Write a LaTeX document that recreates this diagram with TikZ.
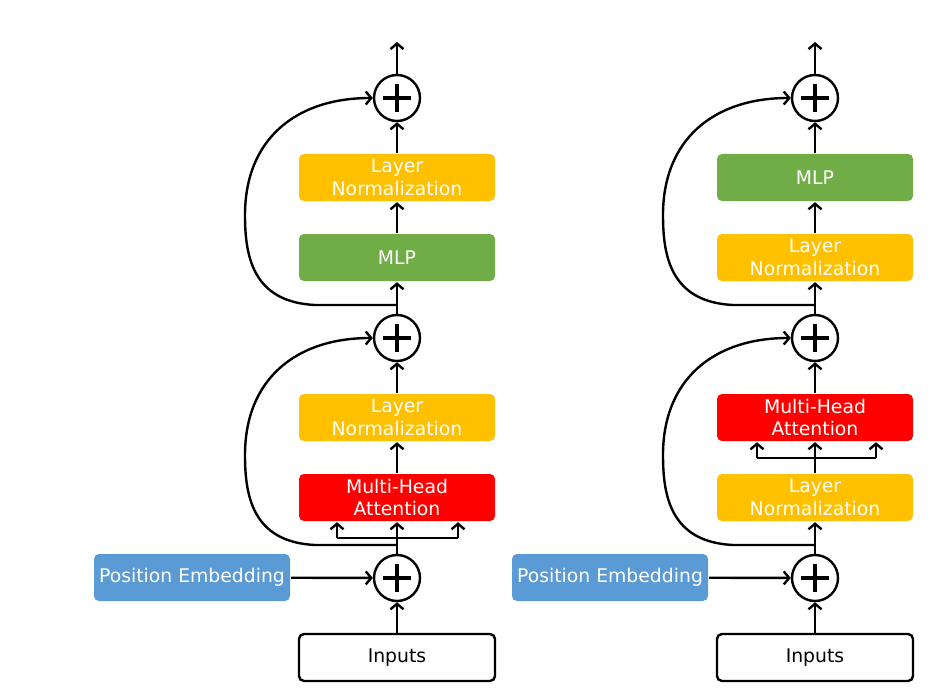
\documentclass[tikz,border=0pt]{standalone}
\usepackage{fontspec}
\setmainfont{DejaVu Sans}
\usetikzlibrary{arrows.meta}
\definecolor{lnyellow}{HTML}{FFC000}
\definecolor{mlpgreen}{HTML}{70AD47}
\definecolor{mhared}{HTML}{FF0000}
\definecolor{peblue}{HTML}{5B9BD5}
\begin{document}
\begin{tikzpicture}[x=1pt,y=-1pt,line width=2.4pt,
  blk/.style={rounded corners=5pt,minimum width=196pt,minimum height=47pt,text=white,align=center,inner sep=0pt,font=\fontsize{18.8}{22.5}\selectfont},
  ln/.style={blk,fill=lnyellow},
  mlp/.style={blk,fill=mlpgreen},
  mha/.style={blk,fill=mhared},
  pe/.style={blk,fill=peblue},
  inp/.style={blk,draw=black,fill=white,text=black,line width=2.4pt},
  plus/.style={circle,draw,fill=white,minimum size=46pt,inner sep=0pt,line width=2.4pt,
    path picture={\draw[line width=4pt] ([xshift=-14pt]path picture bounding box.center) -- ([xshift=14pt]path picture bounding box.center);
                  \draw[line width=4pt] ([yshift=-14pt]path picture bounding box.center) -- ([yshift=14pt]path picture bounding box.center);}},
  arr/.style={-{Straight Barb[length=5.5pt,width=13pt]}}
]
\useasboundingbox (0,0) rectangle (928,695);

% ---------- left column ----------
\node[plus] (Lc3) at (397,98) {};
\node[ln] (Lln2) at (397,177.5) {Layer\\Normalization};
\node[mlp] (Lmlp) at (397,257.5) {MLP};
\node[plus] (Lc2) at (397,338) {};
\node[ln] (Lln1) at (397,417.5) {Layer\\Normalization};
\node[mha] (Lmha) at (397,497.5) {Multi-Head\\Attention};
\node[plus] (Lc1) at (397,578) {};
\node[pe] (Lpe) at (192,577.5) {Position Embedding};
\node[inp] (Lin) at (397,657.5) {Inputs};
\coordinate (Lout) at (397,42);
\coordinate (Lbl) at (337,538);
\coordinate (Lbr) at (458,538);
\coordinate (Ls1) at (397,545);
\coordinate (Ls2) at (397,305);

\draw[arr] (Lin) -- (Lc1);
\draw[arr] (Lpe) -- (Lc1);
\draw[arr] (Lc1) -- (Lmha);
\draw (Lbl) -- (Lbr);
\draw[arr] (Lbl) -- (Lbl|-Lmha.south);
\draw[arr] (Lbr) -- (Lbr|-Lmha.south);
\draw[arr] (Lmha) -- (Lln1);
\draw[arr] (Lln1) -- (Lc2);
\draw[arr] (Lc2) -- (Lmlp);
\draw[arr] (Lmlp) -- (Lln2);
\draw[arr] (Lln2) -- (Lc3);
\draw[arr] (Lc3) -- (Lout);
\draw[arr] (Ls1) -- (315,545) .. controls (252,542) and (245,495) .. (245,455) .. controls (245,380) and (295,338) .. (Lc2.west);
\draw[arr] (Ls2) -- (315,305) .. controls (252,302) and (245,255) .. (245,215) .. controls (245,140) and (295,98) .. (Lc3.west);

% ---------- right column ----------
\node[plus] (Rc3) at (815,98) {};
\node[mlp] (Rmlp) at (815,177.5) {MLP};
\node[ln] (Rln2) at (815,257.5) {Layer\\Normalization};
\node[plus] (Rc2) at (815,338) {};
\node[mha] (Rmha) at (815,417.5) {Multi-Head\\Attention};
\node[ln] (Rln1) at (815,497.5) {Layer\\Normalization};
\node[plus] (Rc1) at (815,578) {};
\node[pe] (Rpe) at (610,577.5) {Position Embedding};
\node[inp] (Rin) at (815,657.5) {Inputs};
\coordinate (Rout) at (815,42);
\coordinate (Rbl) at (757,458);
\coordinate (Rbr) at (876,458);
\coordinate (Rs1) at (815,545);
\coordinate (Rs2) at (815,305);

\draw[arr] (Rin) -- (Rc1);
\draw[arr] (Rpe) -- (Rc1);
\draw[arr] (Rc1) -- (Rln1);
\draw[arr] (Rln1) -- (Rmha);
\draw (Rbl) -- (Rbr);
\draw[arr] (Rbl) -- (Rbl|-Rmha.south);
\draw[arr] (Rbr) -- (Rbr|-Rmha.south);
\draw[arr] (Rmha) -- (Rc2);
\draw[arr] (Rc2) -- (Rln2);
\draw[arr] (Rln2) -- (Rmlp);
\draw[arr] (Rmlp) -- (Rc3);
\draw[arr] (Rc3) -- (Rout);
\draw[arr] (Rs1) -- (733,545) .. controls (670,542) and (663,495) .. (663,455) .. controls (663,380) and (713,338) .. (Rc2.west);
\draw[arr] (Rs2) -- (733,305) .. controls (670,302) and (663,255) .. (663,215) .. controls (663,140) and (713,98) .. (Rc3.west);
\end{tikzpicture}
\end{document}
